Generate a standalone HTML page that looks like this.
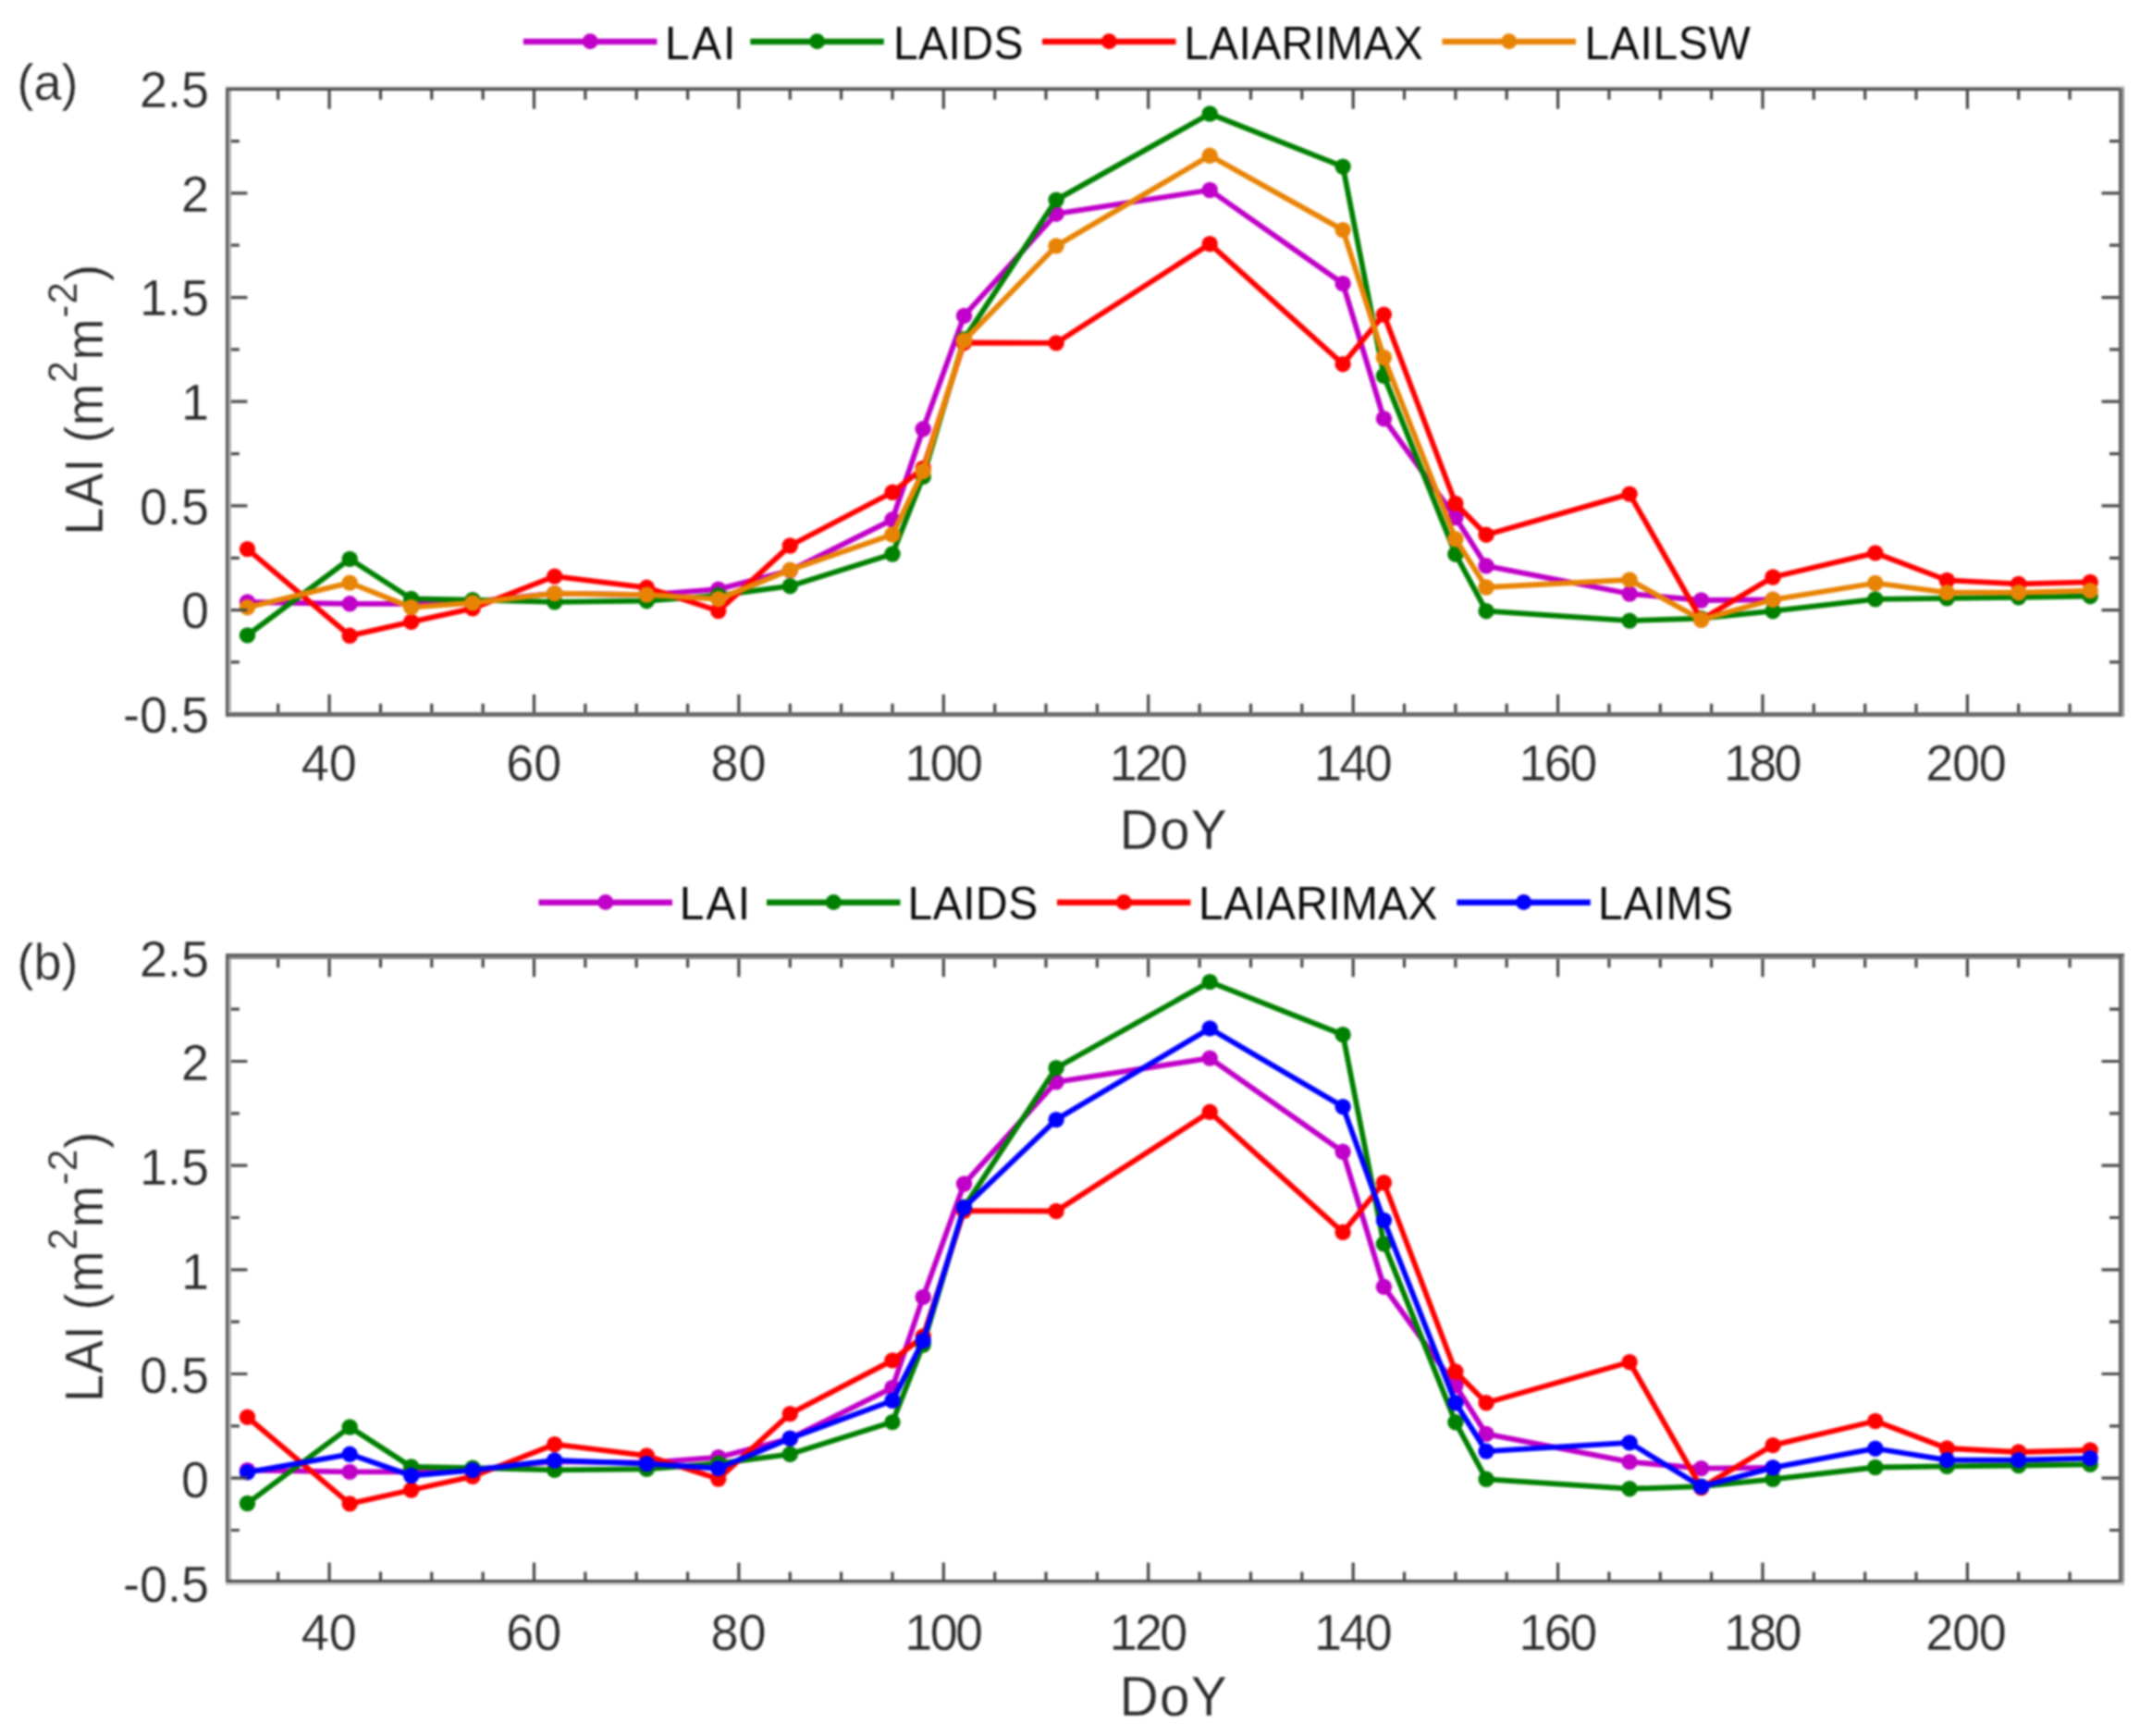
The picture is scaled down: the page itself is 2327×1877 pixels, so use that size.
<!DOCTYPE html>
<html lang="en"><head><meta charset="utf-8"><title>LAI time series</title>
<style>html,body{margin:0;padding:0;background:#fff}svg{display:block}#fig{width:2327px;height:1877px;overflow:hidden;filter:blur(1px)}.t{stroke:#fff;stroke-width:.3px}.l{stroke:#fff;stroke-width:.5px}</style></head>
<body>
<div id="fig">
<svg width="2327" height="1877" viewBox="0 0 2327 1877" font-family='"Liberation Sans", Arial, Helvetica, sans-serif'>
<rect width="2327" height="1877" fill="#fff"/>
<g>
<polyline points="267.5,651.0 378.2,652.8 444.7,652.8 511.1,650.6 599.7,641.6 699.3,643.1 776.8,637.1 854.3,616.8 965.0,561.8 998.2,463.8 1042.5,341.4 1142.1,231.2 1308.2,205.5 1452.1,306.7 1496.4,452.7 1573.9,559.5 1607.1,611.8 1762.1,642.0 1839.6,649.0 1917.1,648.3" fill="none" stroke="#c000c8" stroke-width="5.8" stroke-linejoin="round"/><g fill="#c000c8"><circle cx="267.5" cy="651.0" r="8.7"/><circle cx="378.2" cy="652.8" r="8.7"/><circle cx="444.7" cy="652.8" r="8.7"/><circle cx="511.1" cy="650.6" r="8.7"/><circle cx="599.7" cy="641.6" r="8.7"/><circle cx="699.3" cy="643.1" r="8.7"/><circle cx="776.8" cy="637.1" r="8.7"/><circle cx="854.3" cy="616.8" r="8.7"/><circle cx="965.0" cy="561.8" r="8.7"/><circle cx="998.2" cy="463.8" r="8.7"/><circle cx="1042.5" cy="341.4" r="8.7"/><circle cx="1142.1" cy="231.2" r="8.7"/><circle cx="1308.2" cy="205.5" r="8.7"/><circle cx="1452.1" cy="306.7" r="8.7"/><circle cx="1496.4" cy="452.7" r="8.7"/><circle cx="1573.9" cy="559.5" r="8.7"/><circle cx="1607.1" cy="611.8" r="8.7"/><circle cx="1762.1" cy="642.0" r="8.7"/><circle cx="1839.6" cy="649.0" r="8.7"/><circle cx="1917.1" cy="648.3" r="8.7"/></g>
<polyline points="267.5,686.9 378.2,604.4 444.7,647.4 511.1,648.6 599.7,650.8 699.3,649.7 776.8,643.8 854.3,633.7 965.0,599.0 998.2,515.4 1042.5,366.6 1142.1,216.1 1308.2,123.0 1452.1,180.1 1496.4,406.3 1573.9,599.2 1607.1,660.7 1762.1,671.1 1839.6,668.6 1917.1,660.7 2027.8,647.9 2105.3,646.8 2182.7,645.9 2260.2,644.7" fill="none" stroke="#008000" stroke-width="5.8" stroke-linejoin="round"/><g fill="#008000"><circle cx="267.5" cy="686.9" r="8.7"/><circle cx="378.2" cy="604.4" r="8.7"/><circle cx="444.7" cy="647.4" r="8.7"/><circle cx="511.1" cy="648.6" r="8.7"/><circle cx="599.7" cy="650.8" r="8.7"/><circle cx="699.3" cy="649.7" r="8.7"/><circle cx="776.8" cy="643.8" r="8.7"/><circle cx="854.3" cy="633.7" r="8.7"/><circle cx="965.0" cy="599.0" r="8.7"/><circle cx="998.2" cy="515.4" r="8.7"/><circle cx="1042.5" cy="366.6" r="8.7"/><circle cx="1142.1" cy="216.1" r="8.7"/><circle cx="1308.2" cy="123.0" r="8.7"/><circle cx="1452.1" cy="180.1" r="8.7"/><circle cx="1496.4" cy="406.3" r="8.7"/><circle cx="1573.9" cy="599.2" r="8.7"/><circle cx="1607.1" cy="660.7" r="8.7"/><circle cx="1762.1" cy="671.1" r="8.7"/><circle cx="1839.6" cy="668.6" r="8.7"/><circle cx="1917.1" cy="660.7" r="8.7"/><circle cx="2027.8" cy="647.9" r="8.7"/><circle cx="2105.3" cy="646.8" r="8.7"/><circle cx="2182.7" cy="645.9" r="8.7"/><circle cx="2260.2" cy="644.7" r="8.7"/></g>
<polyline points="267.5,593.6 378.2,687.3 444.7,672.4 511.1,657.8 599.7,623.1 699.3,635.3 776.8,660.5 854.3,590.0 965.0,532.3 998.2,506.4 1042.5,370.5 1142.1,370.9 1308.2,263.7 1452.1,393.7 1496.4,340.1 1573.9,544.4 1607.1,578.2 1762.1,534.1 1839.6,670.0 1917.1,624.0 2027.8,597.9 2105.3,627.4 2182.7,631.4 2260.2,629.4" fill="none" stroke="#ff0000" stroke-width="5.8" stroke-linejoin="round"/><g fill="#ff0000"><circle cx="267.5" cy="593.6" r="8.7"/><circle cx="378.2" cy="687.3" r="8.7"/><circle cx="444.7" cy="672.4" r="8.7"/><circle cx="511.1" cy="657.8" r="8.7"/><circle cx="599.7" cy="623.1" r="8.7"/><circle cx="699.3" cy="635.3" r="8.7"/><circle cx="776.8" cy="660.5" r="8.7"/><circle cx="854.3" cy="590.0" r="8.7"/><circle cx="965.0" cy="532.3" r="8.7"/><circle cx="998.2" cy="506.4" r="8.7"/><circle cx="1042.5" cy="370.5" r="8.7"/><circle cx="1142.1" cy="370.9" r="8.7"/><circle cx="1308.2" cy="263.7" r="8.7"/><circle cx="1452.1" cy="393.7" r="8.7"/><circle cx="1496.4" cy="340.1" r="8.7"/><circle cx="1573.9" cy="544.4" r="8.7"/><circle cx="1607.1" cy="578.2" r="8.7"/><circle cx="1762.1" cy="534.1" r="8.7"/><circle cx="1839.6" cy="670.0" r="8.7"/><circle cx="1917.1" cy="624.0" r="8.7"/><circle cx="2027.8" cy="597.9" r="8.7"/><circle cx="2105.3" cy="627.4" r="8.7"/><circle cx="2182.7" cy="631.4" r="8.7"/><circle cx="2260.2" cy="629.4" r="8.7"/></g>
<polyline points="267.5,656.7 378.2,630.1 444.7,656.7 511.1,651.9 599.7,641.6 699.3,643.1 776.8,647.7 854.3,616.3 965.0,578.0 998.2,509.5 1042.5,368.2 1142.1,265.9 1308.2,168.3 1452.1,248.6 1496.4,386.5 1573.9,582.8 1607.1,635.0 1762.1,626.9 1839.6,670.0 1917.1,648.3 2027.8,630.5 2105.3,640.7 2182.7,640.7 2260.2,638.6" fill="none" stroke="#e88405" stroke-width="5.8" stroke-linejoin="round"/><g fill="#e88405"><circle cx="267.5" cy="656.7" r="8.7"/><circle cx="378.2" cy="630.1" r="8.7"/><circle cx="444.7" cy="656.7" r="8.7"/><circle cx="511.1" cy="651.9" r="8.7"/><circle cx="599.7" cy="641.6" r="8.7"/><circle cx="699.3" cy="643.1" r="8.7"/><circle cx="776.8" cy="647.7" r="8.7"/><circle cx="854.3" cy="616.3" r="8.7"/><circle cx="965.0" cy="578.0" r="8.7"/><circle cx="998.2" cy="509.5" r="8.7"/><circle cx="1042.5" cy="368.2" r="8.7"/><circle cx="1142.1" cy="265.9" r="8.7"/><circle cx="1308.2" cy="168.3" r="8.7"/><circle cx="1452.1" cy="248.6" r="8.7"/><circle cx="1496.4" cy="386.5" r="8.7"/><circle cx="1573.9" cy="582.8" r="8.7"/><circle cx="1607.1" cy="635.0" r="8.7"/><circle cx="1762.1" cy="626.9" r="8.7"/><circle cx="1839.6" cy="670.0" r="8.7"/><circle cx="1917.1" cy="648.3" r="8.7"/><circle cx="2027.8" cy="630.5" r="8.7"/><circle cx="2105.3" cy="640.7" r="8.7"/><circle cx="2182.7" cy="640.7" r="8.7"/><circle cx="2260.2" cy="638.6" r="8.7"/></g>
</g>
<path d="M300.7 96.2v11.5M300.7 772.3v-11.5M356.1 96.2v21.5M356.1 772.3v-21.5M411.5 96.2v11.5M411.5 772.3v-11.5M466.8 96.2v11.5M466.8 772.3v-11.5M522.2 96.2v11.5M522.2 772.3v-11.5M577.5 96.2v21.5M577.5 772.3v-21.5M632.9 96.2v11.5M632.9 772.3v-11.5M688.2 96.2v11.5M688.2 772.3v-11.5M743.6 96.2v11.5M743.6 772.3v-11.5M798.9 96.2v21.5M798.9 772.3v-21.5M854.3 96.2v11.5M854.3 772.3v-11.5M909.6 96.2v11.5M909.6 772.3v-11.5M965.0 96.2v11.5M965.0 772.3v-11.5M1020.3 96.2v21.5M1020.3 772.3v-21.5M1075.7 96.2v11.5M1075.7 772.3v-11.5M1131.0 96.2v11.5M1131.0 772.3v-11.5M1186.4 96.2v11.5M1186.4 772.3v-11.5M1241.7 96.2v21.5M1241.7 772.3v-21.5M1297.1 96.2v11.5M1297.1 772.3v-11.5M1352.5 96.2v11.5M1352.5 772.3v-11.5M1407.8 96.2v11.5M1407.8 772.3v-11.5M1463.2 96.2v21.5M1463.2 772.3v-21.5M1518.5 96.2v11.5M1518.5 772.3v-11.5M1573.9 96.2v11.5M1573.9 772.3v-11.5M1629.2 96.2v11.5M1629.2 772.3v-11.5M1684.6 96.2v21.5M1684.6 772.3v-21.5M1739.9 96.2v11.5M1739.9 772.3v-11.5M1795.3 96.2v11.5M1795.3 772.3v-11.5M1850.6 96.2v11.5M1850.6 772.3v-11.5M1906.0 96.2v21.5M1906.0 772.3v-21.5M1961.3 96.2v11.5M1961.3 772.3v-11.5M2016.7 96.2v11.5M2016.7 772.3v-11.5M2072.0 96.2v11.5M2072.0 772.3v-11.5M2127.4 96.2v21.5M2127.4 772.3v-21.5M2182.7 96.2v11.5M2182.7 772.3v-11.5M2238.1 96.2v11.5M2238.1 772.3v-11.5M246.4 715.9h12.5M2293.5 715.9h-12.5M246.4 659.6h21M2293.5 659.6h-21M246.4 603.3h12.5M2293.5 603.3h-12.5M246.4 546.9h21M2293.5 546.9h-21M246.4 490.6h12.5M2293.5 490.6h-12.5M246.4 434.2h21M2293.5 434.2h-21M246.4 377.9h12.5M2293.5 377.9h-12.5M246.4 321.6h21M2293.5 321.6h-21M246.4 265.2h12.5M2293.5 265.2h-12.5M246.4 208.9h21M2293.5 208.9h-21M246.4 152.6h12.5M2293.5 152.6h-12.5" stroke="#484848" stroke-width="3.2" fill="none"/>
<g shape-rendering="crispEdges">
<rect x="244.00" y="92.63" width="2052.80" height="2.8" fill="#c6c6c6"/>
<rect x="244.00" y="95.43" width="2052.80" height="3" fill="#494949"/>
<rect x="244.00" y="769.67" width="2052.80" height="5.2" fill="#6c6c6c"/>
<rect x="244.00" y="95.43" width="3" height="679.85" fill="#5a5a5a"/>
<rect x="247.00" y="98.43" width="3" height="670.85" fill="#b2b2b2"/>
<rect x="2290.80" y="95.43" width="3.2" height="679.85" fill="#5e5e5e"/>
<rect x="2294.00" y="95.43" width="2.8" height="679.85" fill="#929292"/>
</g>
<g font-size="54" fill="#2b2b2b" text-anchor="end" class="t">
<text transform="translate(226.0 115.9) scale(1 1.035)" >2.5</text>
<text transform="translate(226.0 228.6) scale(1 1.035)" >2</text>
<text transform="translate(226.0 341.3) scale(1 1.035)" >1.5</text>
<text transform="translate(226.0 453.9) scale(1 1.035)" >1</text>
<text transform="translate(226.0 566.6) scale(1 1.035)" >0.5</text>
<text transform="translate(226.0 679.3) scale(1 1.035)" >0</text>
<text transform="translate(226.0 792.0) scale(1 1.035)" >-0.5</text>
</g>
<g font-size="54" fill="#2b2b2b" text-anchor="middle" class="t">
<text transform="translate(355.8 844.3) scale(1 1.035)" >40</text>
<text transform="translate(577.2 844.3) scale(1 1.035)" >60</text>
<text transform="translate(798.6 844.3) scale(1 1.035)" >80</text>
<text transform="translate(1019.3 844.3) scale(1 1.035)" letter-spacing="-2.7">100</text>
<text transform="translate(1240.7 844.3) scale(1 1.035)" letter-spacing="-2.7">120</text>
<text transform="translate(1462.1 844.3) scale(1 1.035)" letter-spacing="-2.7">140</text>
<text transform="translate(1683.5 844.3) scale(1 1.035)" letter-spacing="-2.7">160</text>
<text transform="translate(1904.9 844.3) scale(1 1.035)" letter-spacing="-2.7">180</text>
<text transform="translate(2125.4 844.3) scale(1 1.035)" letter-spacing="-1.2">200</text>
</g>
<text transform="translate(1269.2 917.6) scale(1 1.03)" class="t" font-size="58.5" fill="#2b2b2b" text-anchor="middle" letter-spacing="1.2">DoY</text>
<text class="t" transform="translate(111.1 578.5) rotate(-90) scale(1 1.05)" font-size="54" fill="#2b2b2b" letter-spacing="0.9">LAI (m<tspan font-size="42.5" dy="-26.6">2</tspan><tspan dy="26.6">m</tspan><tspan font-size="42.5" dy="-26.6">-2</tspan><tspan dy="26.6">)</tspan></text>
<text transform="translate(18.5 108.0) scale(1 1.03)" class="t" font-size="54" fill="#2a2a2a">(a)</text>
<path d="M565.9 45.0h144.5" stroke="#c000c8" stroke-width="6.5"/>
<circle cx="638.2" cy="44.7" r="8.5" fill="#c000c8"/>
<text transform="translate(719.0 63.5) scale(1 1.03)" font-size="48" fill="#0a0a0a" letter-spacing="2.2">LAI</text>
<path d="M811.3 45.0h144.5" stroke="#008000" stroke-width="6.5"/>
<circle cx="883.6" cy="44.7" r="8.5" fill="#008000"/>
<text transform="translate(965.9 63.5) scale(1 1.03)" font-size="48" fill="#0a0a0a" letter-spacing="0.5">LAIDS</text>
<path d="M1127.0 45.0h144.5" stroke="#ff0000" stroke-width="6.5"/>
<circle cx="1199.3" cy="44.7" r="8.5" fill="#ff0000"/>
<text transform="translate(1280.2 63.5) scale(1 1.03)" font-size="48" fill="#0a0a0a" letter-spacing="0.3">LAIARIMAX</text>
<path d="M1559.5 45.0h144.5" stroke="#e88405" stroke-width="6.5"/>
<circle cx="1631.8" cy="44.7" r="8.5" fill="#e88405"/>
<text transform="translate(1713.4 63.5) scale(1 1.03)" font-size="48" fill="#0a0a0a" letter-spacing="0.65">LAILSW</text>
<g>
<polyline points="267.5,1589.6 378.2,1591.4 444.7,1591.4 511.1,1589.2 599.7,1580.2 699.3,1581.7 776.8,1575.7 854.3,1555.4 965.0,1500.4 998.2,1402.4 1042.5,1280.0 1142.1,1169.8 1308.2,1144.1 1452.1,1245.3 1496.4,1391.3 1573.9,1498.1 1607.1,1550.4 1762.1,1580.6 1839.6,1587.6 1917.1,1586.9" fill="none" stroke="#c000c8" stroke-width="5.8" stroke-linejoin="round"/><g fill="#c000c8"><circle cx="267.5" cy="1589.6" r="8.7"/><circle cx="378.2" cy="1591.4" r="8.7"/><circle cx="444.7" cy="1591.4" r="8.7"/><circle cx="511.1" cy="1589.2" r="8.7"/><circle cx="599.7" cy="1580.2" r="8.7"/><circle cx="699.3" cy="1581.7" r="8.7"/><circle cx="776.8" cy="1575.7" r="8.7"/><circle cx="854.3" cy="1555.4" r="8.7"/><circle cx="965.0" cy="1500.4" r="8.7"/><circle cx="998.2" cy="1402.4" r="8.7"/><circle cx="1042.5" cy="1280.0" r="8.7"/><circle cx="1142.1" cy="1169.8" r="8.7"/><circle cx="1308.2" cy="1144.1" r="8.7"/><circle cx="1452.1" cy="1245.3" r="8.7"/><circle cx="1496.4" cy="1391.3" r="8.7"/><circle cx="1573.9" cy="1498.1" r="8.7"/><circle cx="1607.1" cy="1550.4" r="8.7"/><circle cx="1762.1" cy="1580.6" r="8.7"/><circle cx="1839.6" cy="1587.6" r="8.7"/><circle cx="1917.1" cy="1586.9" r="8.7"/></g>
<polyline points="267.5,1625.5 378.2,1543.0 444.7,1586.0 511.1,1587.2 599.7,1589.4 699.3,1588.3 776.8,1582.4 854.3,1572.3 965.0,1537.6 998.2,1454.0 1042.5,1305.2 1142.1,1154.7 1308.2,1061.6 1452.1,1118.7 1496.4,1344.9 1573.9,1537.8 1607.1,1599.3 1762.1,1609.7 1839.6,1607.2 1917.1,1599.3 2027.8,1586.5 2105.3,1585.4 2182.7,1584.5 2260.2,1583.3" fill="none" stroke="#008000" stroke-width="5.8" stroke-linejoin="round"/><g fill="#008000"><circle cx="267.5" cy="1625.5" r="8.7"/><circle cx="378.2" cy="1543.0" r="8.7"/><circle cx="444.7" cy="1586.0" r="8.7"/><circle cx="511.1" cy="1587.2" r="8.7"/><circle cx="599.7" cy="1589.4" r="8.7"/><circle cx="699.3" cy="1588.3" r="8.7"/><circle cx="776.8" cy="1582.4" r="8.7"/><circle cx="854.3" cy="1572.3" r="8.7"/><circle cx="965.0" cy="1537.6" r="8.7"/><circle cx="998.2" cy="1454.0" r="8.7"/><circle cx="1042.5" cy="1305.2" r="8.7"/><circle cx="1142.1" cy="1154.7" r="8.7"/><circle cx="1308.2" cy="1061.6" r="8.7"/><circle cx="1452.1" cy="1118.7" r="8.7"/><circle cx="1496.4" cy="1344.9" r="8.7"/><circle cx="1573.9" cy="1537.8" r="8.7"/><circle cx="1607.1" cy="1599.3" r="8.7"/><circle cx="1762.1" cy="1609.7" r="8.7"/><circle cx="1839.6" cy="1607.2" r="8.7"/><circle cx="1917.1" cy="1599.3" r="8.7"/><circle cx="2027.8" cy="1586.5" r="8.7"/><circle cx="2105.3" cy="1585.4" r="8.7"/><circle cx="2182.7" cy="1584.5" r="8.7"/><circle cx="2260.2" cy="1583.3" r="8.7"/></g>
<polyline points="267.5,1532.2 378.2,1625.9 444.7,1611.0 511.1,1596.4 599.7,1561.7 699.3,1573.9 776.8,1599.1 854.3,1528.6 965.0,1470.9 998.2,1445.0 1042.5,1309.1 1142.1,1309.5 1308.2,1202.3 1452.1,1332.3 1496.4,1278.7 1573.9,1483.0 1607.1,1516.8 1762.1,1472.7 1839.6,1608.6 1917.1,1562.6 2027.8,1536.5 2105.3,1566.0 2182.7,1570.0 2260.2,1568.0" fill="none" stroke="#ff0000" stroke-width="5.8" stroke-linejoin="round"/><g fill="#ff0000"><circle cx="267.5" cy="1532.2" r="8.7"/><circle cx="378.2" cy="1625.9" r="8.7"/><circle cx="444.7" cy="1611.0" r="8.7"/><circle cx="511.1" cy="1596.4" r="8.7"/><circle cx="599.7" cy="1561.7" r="8.7"/><circle cx="699.3" cy="1573.9" r="8.7"/><circle cx="776.8" cy="1599.1" r="8.7"/><circle cx="854.3" cy="1528.6" r="8.7"/><circle cx="965.0" cy="1470.9" r="8.7"/><circle cx="998.2" cy="1445.0" r="8.7"/><circle cx="1042.5" cy="1309.1" r="8.7"/><circle cx="1142.1" cy="1309.5" r="8.7"/><circle cx="1308.2" cy="1202.3" r="8.7"/><circle cx="1452.1" cy="1332.3" r="8.7"/><circle cx="1496.4" cy="1278.7" r="8.7"/><circle cx="1573.9" cy="1483.0" r="8.7"/><circle cx="1607.1" cy="1516.8" r="8.7"/><circle cx="1762.1" cy="1472.7" r="8.7"/><circle cx="1839.6" cy="1608.6" r="8.7"/><circle cx="1917.1" cy="1562.6" r="8.7"/><circle cx="2027.8" cy="1536.5" r="8.7"/><circle cx="2105.3" cy="1566.0" r="8.7"/><circle cx="2182.7" cy="1570.0" r="8.7"/><circle cx="2260.2" cy="1568.0" r="8.7"/></g>
<polyline points="267.5,1591.9 378.2,1572.3 444.7,1595.5 511.1,1589.6 599.7,1579.0 699.3,1582.7 776.8,1587.6 854.3,1555.2 965.0,1514.4 998.2,1449.5 1042.5,1305.7 1142.1,1210.6 1308.2,1111.9 1452.1,1196.6 1496.4,1319.4 1573.9,1516.8 1607.1,1569.1 1762.1,1559.9 1839.6,1607.4 1917.1,1586.9 2027.8,1566.2 2105.3,1578.6 2182.7,1578.6 2260.2,1576.6" fill="none" stroke="#0000ff" stroke-width="5.8" stroke-linejoin="round"/><g fill="#0000ff"><circle cx="267.5" cy="1591.9" r="8.7"/><circle cx="378.2" cy="1572.3" r="8.7"/><circle cx="444.7" cy="1595.5" r="8.7"/><circle cx="511.1" cy="1589.6" r="8.7"/><circle cx="599.7" cy="1579.0" r="8.7"/><circle cx="699.3" cy="1582.7" r="8.7"/><circle cx="776.8" cy="1587.6" r="8.7"/><circle cx="854.3" cy="1555.2" r="8.7"/><circle cx="965.0" cy="1514.4" r="8.7"/><circle cx="998.2" cy="1449.5" r="8.7"/><circle cx="1042.5" cy="1305.7" r="8.7"/><circle cx="1142.1" cy="1210.6" r="8.7"/><circle cx="1308.2" cy="1111.9" r="8.7"/><circle cx="1452.1" cy="1196.6" r="8.7"/><circle cx="1496.4" cy="1319.4" r="8.7"/><circle cx="1573.9" cy="1516.8" r="8.7"/><circle cx="1607.1" cy="1569.1" r="8.7"/><circle cx="1762.1" cy="1559.9" r="8.7"/><circle cx="1839.6" cy="1607.4" r="8.7"/><circle cx="1917.1" cy="1586.9" r="8.7"/><circle cx="2027.8" cy="1566.2" r="8.7"/><circle cx="2105.3" cy="1578.6" r="8.7"/><circle cx="2182.7" cy="1578.6" r="8.7"/><circle cx="2260.2" cy="1576.6" r="8.7"/></g>
</g>
<path d="M300.7 1034.8v11.5M300.7 1710.9v-11.5M356.1 1034.8v21.5M356.1 1710.9v-21.5M411.5 1034.8v11.5M411.5 1710.9v-11.5M466.8 1034.8v11.5M466.8 1710.9v-11.5M522.2 1034.8v11.5M522.2 1710.9v-11.5M577.5 1034.8v21.5M577.5 1710.9v-21.5M632.9 1034.8v11.5M632.9 1710.9v-11.5M688.2 1034.8v11.5M688.2 1710.9v-11.5M743.6 1034.8v11.5M743.6 1710.9v-11.5M798.9 1034.8v21.5M798.9 1710.9v-21.5M854.3 1034.8v11.5M854.3 1710.9v-11.5M909.6 1034.8v11.5M909.6 1710.9v-11.5M965.0 1034.8v11.5M965.0 1710.9v-11.5M1020.3 1034.8v21.5M1020.3 1710.9v-21.5M1075.7 1034.8v11.5M1075.7 1710.9v-11.5M1131.0 1034.8v11.5M1131.0 1710.9v-11.5M1186.4 1034.8v11.5M1186.4 1710.9v-11.5M1241.7 1034.8v21.5M1241.7 1710.9v-21.5M1297.1 1034.8v11.5M1297.1 1710.9v-11.5M1352.5 1034.8v11.5M1352.5 1710.9v-11.5M1407.8 1034.8v11.5M1407.8 1710.9v-11.5M1463.2 1034.8v21.5M1463.2 1710.9v-21.5M1518.5 1034.8v11.5M1518.5 1710.9v-11.5M1573.9 1034.8v11.5M1573.9 1710.9v-11.5M1629.2 1034.8v11.5M1629.2 1710.9v-11.5M1684.6 1034.8v21.5M1684.6 1710.9v-21.5M1739.9 1034.8v11.5M1739.9 1710.9v-11.5M1795.3 1034.8v11.5M1795.3 1710.9v-11.5M1850.6 1034.8v11.5M1850.6 1710.9v-11.5M1906.0 1034.8v21.5M1906.0 1710.9v-21.5M1961.3 1034.8v11.5M1961.3 1710.9v-11.5M2016.7 1034.8v11.5M2016.7 1710.9v-11.5M2072.0 1034.8v11.5M2072.0 1710.9v-11.5M2127.4 1034.8v21.5M2127.4 1710.9v-21.5M2182.7 1034.8v11.5M2182.7 1710.9v-11.5M2238.1 1034.8v11.5M2238.1 1710.9v-11.5M246.4 1654.5h12.5M2293.5 1654.5h-12.5M246.4 1598.2h21M2293.5 1598.2h-21M246.4 1541.9h12.5M2293.5 1541.9h-12.5M246.4 1485.5h21M2293.5 1485.5h-21M246.4 1429.2h12.5M2293.5 1429.2h-12.5M246.4 1372.9h21M2293.5 1372.9h-21M246.4 1316.5h12.5M2293.5 1316.5h-12.5M246.4 1260.2h21M2293.5 1260.2h-21M246.4 1203.8h12.5M2293.5 1203.8h-12.5M246.4 1147.5h21M2293.5 1147.5h-21M246.4 1091.2h12.5M2293.5 1091.2h-12.5" stroke="#484848" stroke-width="3.2" fill="none"/>
<g shape-rendering="crispEdges">
<rect x="244.00" y="1031.23" width="2052.80" height="2.9" fill="#5a5a5a"/>
<rect x="244.00" y="1034.13" width="2052.80" height="2.9" fill="#838383"/>
<rect x="244.00" y="1707.88" width="2052.80" height="2.9" fill="#4a4a4a"/>
<rect x="244.00" y="1710.78" width="2052.80" height="3.1" fill="#c8c8c8"/>
<rect x="244.00" y="1034.03" width="3" height="676.75" fill="#5a5a5a"/>
<rect x="247.00" y="1037.03" width="3" height="670.85" fill="#b2b2b2"/>
<rect x="2290.80" y="1034.03" width="3.2" height="676.75" fill="#5e5e5e"/>
<rect x="2294.00" y="1034.03" width="2.8" height="676.75" fill="#929292"/>
</g>
<g font-size="54" fill="#2b2b2b" text-anchor="end" class="t">
<text transform="translate(226.0 1055.5) scale(1 1.035)" >2.5</text>
<text transform="translate(226.0 1168.2) scale(1 1.035)" >2</text>
<text transform="translate(226.0 1280.9) scale(1 1.035)" >1.5</text>
<text transform="translate(226.0 1393.6) scale(1 1.035)" >1</text>
<text transform="translate(226.0 1506.2) scale(1 1.035)" >0.5</text>
<text transform="translate(226.0 1618.9) scale(1 1.035)" >0</text>
<text transform="translate(226.0 1731.6) scale(1 1.035)" >-0.5</text>
</g>
<g font-size="54" fill="#2b2b2b" text-anchor="middle" class="t">
<text transform="translate(355.8 1783.5) scale(1 1.035)" >40</text>
<text transform="translate(577.2 1783.5) scale(1 1.035)" >60</text>
<text transform="translate(798.6 1783.5) scale(1 1.035)" >80</text>
<text transform="translate(1019.3 1783.5) scale(1 1.035)" letter-spacing="-2.7">100</text>
<text transform="translate(1240.7 1783.5) scale(1 1.035)" letter-spacing="-2.7">120</text>
<text transform="translate(1462.1 1783.5) scale(1 1.035)" letter-spacing="-2.7">140</text>
<text transform="translate(1683.5 1783.5) scale(1 1.035)" letter-spacing="-2.7">160</text>
<text transform="translate(1904.9 1783.5) scale(1 1.035)" letter-spacing="-2.7">180</text>
<text transform="translate(2125.4 1783.5) scale(1 1.035)" letter-spacing="-1.2">200</text>
</g>
<text transform="translate(1269.2 1855.2) scale(1 1.03)" class="t" font-size="58.5" fill="#2b2b2b" text-anchor="middle" letter-spacing="1.2">DoY</text>
<text class="t" transform="translate(111.1 1516.1) rotate(-90) scale(1 1.05)" font-size="54" fill="#2b2b2b" letter-spacing="0.9">LAI (m<tspan font-size="42.5" dy="-26.6">2</tspan><tspan dy="26.6">m</tspan><tspan font-size="42.5" dy="-26.6">-2</tspan><tspan dy="26.6">)</tspan></text>
<text transform="translate(18.5 1058.9) scale(1 1.03)" class="t" font-size="54" fill="#2a2a2a">(b)</text>
<path d="M582.5 975.7h144.5" stroke="#c000c8" stroke-width="6.5"/>
<circle cx="654.8" cy="975.4" r="8.5" fill="#c000c8"/>
<text transform="translate(734.7 994.2) scale(1 1.03)" font-size="48" fill="#0a0a0a" letter-spacing="2.2">LAI</text>
<path d="M829.0 975.7h144.5" stroke="#008000" stroke-width="6.5"/>
<circle cx="901.3" cy="975.4" r="8.5" fill="#008000"/>
<text transform="translate(981.5 994.2) scale(1 1.03)" font-size="48" fill="#0a0a0a" letter-spacing="0.5">LAIDS</text>
<path d="M1143.0 975.7h144.5" stroke="#ff0000" stroke-width="6.5"/>
<circle cx="1215.3" cy="975.4" r="8.5" fill="#ff0000"/>
<text transform="translate(1296.1 994.2) scale(1 1.03)" font-size="48" fill="#0a0a0a" letter-spacing="0.3">LAIARIMAX</text>
<path d="M1575.3 975.7h144.5" stroke="#0000ff" stroke-width="6.5"/>
<circle cx="1647.6" cy="975.4" r="8.5" fill="#0000ff"/>
<text transform="translate(1728.0 994.2) scale(1 1.03)" font-size="48" fill="#0a0a0a" letter-spacing="0.5">LAIMS</text>
</svg>
</div>
</body></html>
